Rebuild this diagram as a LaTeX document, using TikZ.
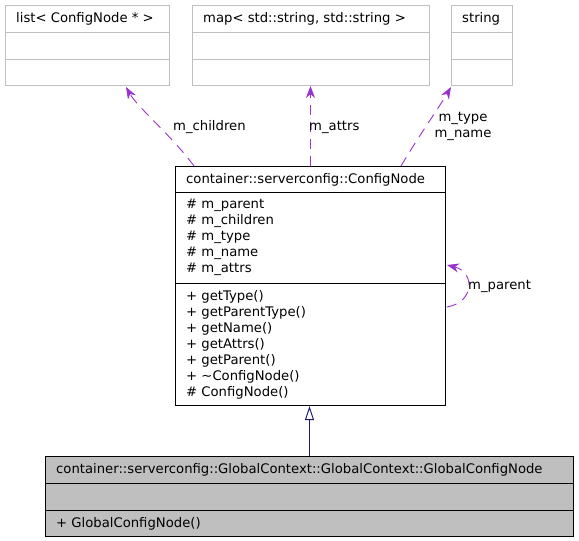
\documentclass[tikz,border=0pt]{standalone}
\usepackage{fontspec}
\setmainfont{DejaVu Sans}
\usepackage{xcolor}
\usetikzlibrary{arrows.meta,calc}
\definecolor{doxpurple}{HTML}{9A32CD}
\definecolor{doxnavy}{HTML}{191970}
\definecolor{doxgray}{HTML}{BFBFBF}
\tikzset{
  extbox/.style={draw=doxgray,line width=1pt,fill=white,inner sep=0pt,anchor=north west},
  classbox/.style={draw=black,line width=1pt,fill=white,inner sep=0pt,anchor=north west},
  basebox/.style={draw=black,line width=1pt,fill=doxgray,inner sep=0pt,anchor=north west},
  member/.style={anchor=base west,inner sep=0pt,font=\fontsize{13.2}{16}\selectfont},
  edgelabel/.style={anchor=base,inner sep=0pt,font=\fontsize{13.2}{16}\selectfont},
  usearrow/.style={-{Stealth[length=12pt,width=9pt]},draw=doxpurple,line width=0.9pt,dash pattern=on 10pt off 7pt},
  inheritarrow/.style={-{Triangle[open,length=14pt,width=9pt,fill=white]},draw=doxnavy,line width=1pt}
}

\begin{document}
\begin{tikzpicture}[x=1pt,y=-1pt]
\useasboundingbox (0,0) rectangle (579,541);

% used types
\node[extbox,minimum width=164pt,minimum height=80pt] (listbox) at (5,5) {};
\node[extbox,minimum width=237pt,minimum height=80pt] (mapbox) at (192,5) {};
\node[extbox,minimum width=61pt,minimum height=80pt] (stringbox) at (451,5) {};
\foreach \b in {listbox,mapbox,stringbox}
  \foreach \d in {27,54}
    \draw[doxgray,line width=1pt] ($(\b.north west)+(0,\d)$) -- ($(\b.north east)+(0,\d)$);
\node[member] (listname) at (16,22) {list< ConfigNode * >};
\node[member] (mapname) at (203,22) {map< std::string, std::string >};
\node[member] (stringname) at (462,22) {string};

% ConfigNode
\node[classbox,minimum width=270pt,minimum height=239pt] (confignode) at (175,166) {};
\draw[line width=1pt] ($(confignode.north west)+(0,26)$) -- ($(confignode.north east)+(0,26)$);
\draw[line width=1pt] ($(confignode.north west)+(0,117)$) -- ($(confignode.north east)+(0,117)$);
\node[member] (configname) at (186,183) {container::serverconfig::ConfigNode};
\node[member] (attparent) at (186,208) {\# m\_parent};
\node[member] (attchildren) at (186,224) {\# m\_children};
\node[member] (atttype) at (186,240) {\# m\_type};
\node[member] (attname) at (186,256) {\# m\_name};
\node[member] (attattrs) at (186,272) {\# m\_attrs};
\node[member] (opgettype) at (186,300) {+ getType()};
\node[member] (opgetparenttype) at (186,316) {+ getParentType()};
\node[member] (opgetname) at (186,332) {+ getName()};
\node[member] (opgetattrs) at (186,348) {+ getAttrs()};
\node[member] (opgetparent) at (186,364) {+ getParent()};
\node[member] (opdtor) at (186,380) {+ \textasciitilde ConfigNode()};
\node[member] (opctor) at (186,396) {\# ConfigNode()};

% GlobalConfigNode
\node[basebox,minimum width=528pt,minimum height=80pt] (globalnode) at (45,456) {};
\draw[line width=1pt] ($(globalnode.north west)+(0,27)$) -- ($(globalnode.north east)+(0,27)$);
\draw[line width=1pt] ($(globalnode.north west)+(0,54)$) -- ($(globalnode.north east)+(0,54)$);
\node[member] (globalname) at (56,473) {container::serverconfig::GlobalContext::GlobalContext::GlobalConfigNode};
\node[member] (opglobalctor) at (56,527) {+ GlobalConfigNode()};

% relations
\draw[inheritarrow] (globalnode.north) -- (globalnode.north |- confignode.south);
\draw[usearrow] ($(confignode.north west)+(19,0)$) .. controls (172,136) and (138,108) .. ($(listbox.south west)+(121,1)$);
\draw[usearrow] (confignode.north) -- (confignode.north |- mapbox.south);
\draw[usearrow] ($(confignode.north east)+(-45,0)$) .. controls (420,134) and (440,106) .. ($(stringbox.south west)+(0,1)$);
\draw[usearrow] ($(confignode.east)+(1,21)$) .. controls ($(confignode.east)+(29,16)$) and ($(confignode.east)+(29,-14)$) .. ($(confignode.east)+(1,-21)$);

\node[edgelabel,anchor=base west] (childrenlabel) at (173,130) {m\_children};
\node[edgelabel,anchor=base west] (attrslabel) at (309,130) {m\_attrs};
\node[edgelabel] (typelabel) at (463,121) {m\_type};
\node[edgelabel] (namelabel) at (463,137) {m\_name};
\node[edgelabel,anchor=base west] (parentlabel) at (468,289) {m\_parent};
\end{tikzpicture}
\end{document}
